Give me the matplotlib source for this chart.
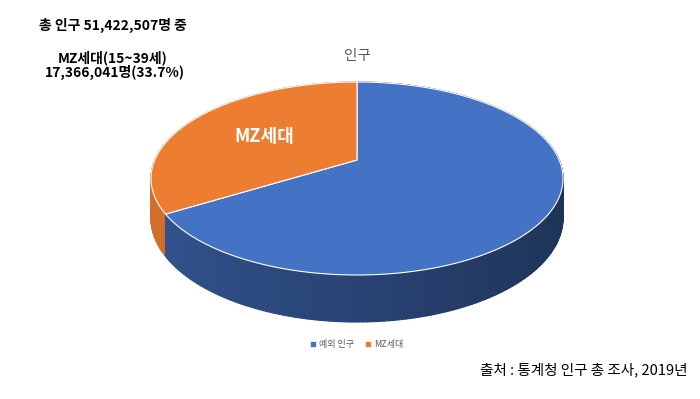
import matplotlib.pyplot as plt
import numpy as np
from matplotlib.patches import Polygon
from matplotlib.collections import PolyCollection
import matplotlib.colors as mcolors

plt.rcParams['font.family'] = ['Noto Sans CJK KR', 'DejaVu Sans']

total = 51422507
mz = 17366041
mz_share = "33.7%"
labels = ["예외 인구", "MZ세대"]
values = [total - mz, mz]
colors = ["#4472C4", "#ED7D31"]

# perspective projection of the disk (fitted to the picture)
x0, s = 357, 202.2
p, q, r = -62.28, 160, 0.1917
c, e = 0.0, 38


def project(u, v, z=0):
    w = 1 + r * v + c * z
    return x0 + s * u / w, (p * v + q + e * z) / w


fig = plt.figure(figsize=(7, 3.99), dpi=100)
ax = fig.add_axes([0, 0, 1, 1])
ax.set_xlim(0, 700)
ax.set_ylim(399, 0)
ax.axis('off')

# slice angles: start at top, go clockwise
fracs = np.array(values) / sum(values)
starts = 90 - np.concatenate([[0], np.cumsum(fracs)[:-1]]) * 360
ends = starts - fracs * 360

# side of the cylinder, drawn back to front
quads, qcols, depth = [], [], []
for st, en, col in zip(starts, ends, colors):
    th = np.radians(np.linspace(st, en, 240))
    base = np.array(mcolors.to_rgb(col))
    for a, b in zip(th[:-1], th[1:]):
        ua, va, ub, vb = np.cos(a), np.sin(a), np.cos(b), np.sin(b)
        quads.append([project(ua, va), project(ub, vb),
                      project(ub, vb, 1), project(ua, va, 1)])
        xm = (ua + ub) / 2
        shade = 0.74 - 0.3 * (xm + 1) / 2
        if col == colors[1]:
            shade = 0.88
        qcols.append(np.clip(base * shade, 0, 1))
        depth.append(-(va + vb) / 2)
order = np.argsort(depth)
ax.add_collection(PolyCollection([quads[i] for i in order],
                                 facecolors=[qcols[i] for i in order],
                                 edgecolors=[qcols[i] for i in order],
                                 linewidths=0.8))

# top face
for st, en, col in zip(starts, ends, colors):
    th = np.radians(np.linspace(st, en, 300))
    pts = [project(0, 0)] + [project(np.cos(t), np.sin(t)) for t in th]
    ax.add_patch(Polygon(pts, closed=True, facecolor=col,
                         edgecolor="white", linewidth=0.8))

# label inside MZ slice
mid = np.radians((starts[1] + ends[1]) / 2)
lx, ly = project(0.55 * np.cos(mid), 0.55 * np.sin(mid))
ax.text(lx, ly, labels[1], color="white", fontsize=13, fontweight="bold",
        ha="center", va="center")

ax.text(357, 56, "인구", color="#595959", fontsize=10.5, ha="center", va="center")

ax.text(113, 25, f"총 인구 {total:,}명 중", fontsize=10, fontweight="bold",
        ha="center", va="center")
ax.text(113, 58, "MZ세대(15~39세)", fontsize=10, fontweight="bold",
        ha="center", va="center")
ax.text(115, 72, f"{mz:,}명({mz_share})", fontsize=10,
        fontweight="bold", ha="center", va="center")

# legend
lx0 = 313
for lab, col in zip(labels, colors):
    ax.scatter([lx0], [344], marker="s", s=7, color=col)
    ax.text(lx0 + 6, 344, lab, fontsize=6.5, color="#595959",
            ha="left", va="center")
    lx0 += 55

ax.text(687, 370, "출처 : 통계청 인구 총 조사, 2019년", fontsize=10.5,
        ha="right", va="center")

fig.savefig("out.png", dpi=100)
